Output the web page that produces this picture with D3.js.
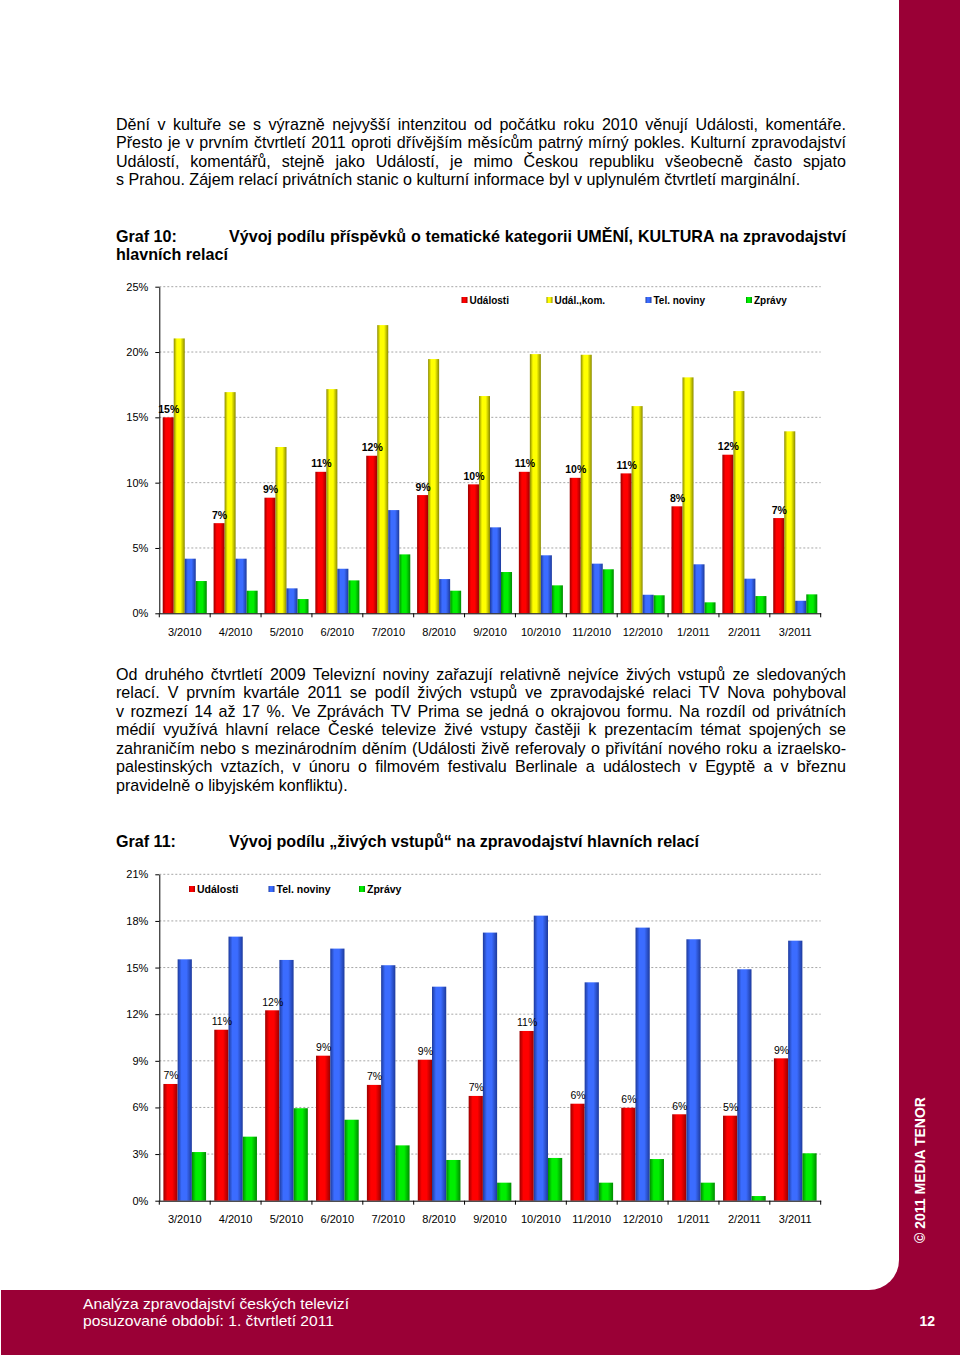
<!DOCTYPE html>
<html><head><meta charset="utf-8">
<script src="https://cdn.jsdelivr.net/npm/d3@7"></script>
<style>
html,body{margin:0;padding:0;background:#fff;}
body{width:960px;height:1357px;overflow:hidden;}
svg{display:block;}
</style></head><body>
<svg id="page" width="960" height="1357"></svg>
<script>
// ---------------- DATA ----------------
const categories = ["3/2010","4/2010","5/2010","6/2010","7/2010","8/2010","9/2010","10/2010","11/2010","12/2010","1/2011","2/2011","3/2011"];

// Graf 10
const g10Series = ["Události","Udál.,kom.","Tel. noviny","Zprávy"];
const g10Udalosti   = [15.0,6.9,8.85,10.83,12.06,9.05,9.87,10.83,10.37,10.71,8.19,12.14,7.29];
const g10UdalKom    = [21.04,16.93,12.73,17.16,22.06,19.46,16.63,19.84,19.79,15.86,18.06,17.01,13.93];
const g10TelNoviny  = [4.18,4.18,1.91,3.41,7.9,2.62,6.58,4.44,3.80,1.42,3.75,2.65,0.96];
const g10Zpravy     = [2.47,1.73,1.09,2.52,4.51,1.73,3.16,2.14,3.37,1.38,0.84,1.32,1.45];
const g10Labels     = ["15%","7%","9%","11%","12%","9%","10%","11%","10%","11%","8%","12%","7%"];
const g10Ticks      = [0,5,10,15,20,25];

// Graf 11
const g11Series = ["Události","Tel. noviny","Zprávy"];
const g11Udalosti  = [7.51,11.0,12.25,9.33,7.45,9.07,6.74,10.92,6.24,5.98,5.56,5.47,9.16];
const g11TelNoviny = [15.53,16.99,15.49,16.22,15.15,13.77,17.25,18.34,14.05,17.57,16.82,14.89,16.73];
const g11Zpravy    = [3.13,4.12,5.95,5.21,3.56,2.62,1.16,2.75,1.16,2.68,1.16,0.30,3.05];
const g11Labels    = ["7%","11%","12%","9%","7%","9%","7%","11%","6%","6%","6%","5%","9%"];
const g11Ticks     = [0,3,6,9,12,15,18,21];

// Texts
const para1 = [
 "Dění v kultuře se s výrazně nejvyšší intenzitou od počátku roku 2010 věnují Události, komentáře.",
 "Přesto je v prvním čtvrtletí 2011 oproti dřívějším měsícům patrný mírný pokles. Kulturní zpravodajství",
 "Událostí, komentářů, stejně jako Událostí, je mimo Českou republiku všeobecně často spjato",
 "s Prahou. Zájem relací privátních stanic o kulturní informace byl v uplynulém čtvrtletí marginální."
];
const title10Label = "Graf 10:";
const title10 = ["Vývoj podílu příspěvků o tematické kategorii UMĚNÍ, KULTURA na zpravodajství","hlavních relací"];
const para2 = [
 "Od druhého čtvrtletí 2009 Televizní noviny zařazují relativně nejvíce živých vstupů ze sledovaných",
 "relací. V prvním kvartále 2011 se podíl živých vstupů ve zpravodajské relaci TV Nova pohyboval",
 "v rozmezí 14 až 17 %. Ve Zprávách TV Prima se jedná o okrajovou formu. Na rozdíl od privátních",
 "médií využívá hlavní relace České televize živé vstupy častěji k prezentacím témat spojených se",
 "zahraničím nebo s mezinárodním děním (Události živě referovaly o přivítání nového roku a izraelsko-",
 "palestinských vztazích, v únoru o filmovém festivalu Berlinale a událostech v Egyptě a v březnu",
 "pravidelně o libyjském konfliktu)."
];
const title11Label = "Graf 11:";
const title11 = "Vývoj podílu „živých vstupů“ na zpravodajství hlavních relací";
const footer = ["Analýza zpravodajství českých televizí","posuzované období: 1. čtvrtletí 2011"];
const pageNo = "12";
const sideText = "© 2011 MEDIA TENOR";

// ---------------- PAGE ----------------
const BURG = "#9a0036";
const svg = d3.select("#page");
const defs = svg.append("defs");

svg.append("rect").attr("x",0).attr("y",0).attr("width",960).attr("height",1357).attr("fill","#fff");
svg.append("rect").attr("x",899).attr("y",0).attr("width",61).attr("height",1355).attr("fill",BURG);
svg.append("rect").attr("x",1).attr("y",1255).attr("width",959).attr("height",100).attr("fill",BURG);
svg.append("path").attr("fill","#fff")
  .attr("d","M0,0 H899 V1260 A30,30 0 0 1 869,1290 H0 Z");

function fontAvailable(name){
  const c=document.createElement('canvas').getContext('2d');
  c.font='40px monospace'; const a=c.measureText('abcdefghiMWQrstl').width;
  c.font='40px "'+name+'", monospace'; const b=c.measureText('abcdefghiMWQrstl').width;
  return a!==b;
}
const bodyFont = fontAvailable('Liberation Sans Narrow') ? '"Liberation Sans Narrow","Liberation Sans",Arial,sans-serif' : '"Liberation Sans",Arial,sans-serif';
const sansFont = '"Liberation Sans",Arial,sans-serif';

const measureG = svg.append("g").attr("opacity",0);
function measure(str, size, weight){
  const t = measureG.append("text").attr("font-family",bodyFont).attr("font-size",size).attr("font-weight",weight).text(str);
  const w = t.node().getComputedTextLength(); t.remove(); return w;
}
function styleScale(refStr, target, size, weight){ return target / measure(refStr,size,weight); }

function drawLine(str, x, baseline, o){
  const words = str.split(" ");
  const ws = words.map(w => measure(w,o.size,o.weight)*o.s);
  const spaceW = (measure("x x",o.size,o.weight)-measure("xx",o.size,o.weight))*o.s;
  let gap = spaceW;
  if (o.width && words.length>1) gap = (o.width - d3.sum(ws))/(words.length-1);
  let cx = x;
  words.forEach((w,i)=>{
    svg.append("text").attr("x",cx).attr("y",baseline)
      .attr("font-family",bodyFont).attr("font-size",o.size).attr("font-weight",o.weight)
      .attr("fill",o.fill||"#000")
      .attr("textLength",ws[i]).attr("lengthAdjust","spacingAndGlyphs").text(w);
    cx += ws[i] + gap;
  });
}

const BODY = 17;
const sBody = styleScale(para1[3], 684, BODY, "normal");
const sBold = styleScale(title11, 470, BODY, "bold");
const sFoot = styleScale(footer[0], 266, 15, "normal");
const bodyO = {size:BODY, weight:"normal", s:sBody};
const boldO = {size:BODY, weight:"bold", s:sBold};

const LX = 116, RW = 730, LH = 18.55;
para1.forEach((l,i)=> drawLine(l, LX, 129.5 + i*LH, Object.assign({}, bodyO, {width: i<para1.length-1 ? RW : null})));
drawLine(title10Label, LX, 241.5, boldO);
drawLine(title10[0], 229, 241.5, Object.assign({}, boldO, {width: 846-229}));
drawLine(title10[1], LX, 260, boldO);
para2.forEach((l,i)=> drawLine(l, LX, 679.5 + i*LH, Object.assign({}, bodyO, {width: i<para2.length-1 ? RW : null})));
drawLine(title11Label, LX, 846.5, boldO);
drawLine(title11, 229, 846.5, boldO);

const footO = {size:15, weight:"normal", s:sFoot, fill:"#fff"};
drawLine(footer[0], 83, 1309, footO);
drawLine(footer[1], 83, 1326, footO);
svg.append("text").attr("x",935).attr("y",1326).attr("text-anchor","end")
  .attr("font-family",sansFont).attr("font-size",14).attr("font-weight","bold").attr("fill","#fff").text(pageNo);
svg.append("text").attr("transform","translate(925,1170) rotate(-90)").attr("text-anchor","middle")
  .attr("font-family",sansFont).attr("font-size",14).attr("font-weight","bold").attr("fill","#fff").text(sideText);

// ---------------- CHARTS ----------------
const palette = {
  "red":   ["#9a0000","#ff0000"],
  "yellow":["#8a8a00","#ffff00"],
  "blue":  ["#1d3a9c","#3b6cff"],
  "green": ["#008a00","#00ee00"]
};
Object.entries(palette).forEach(([k,[dark,mid]])=>{
  const g = defs.append("linearGradient").attr("id","grad-"+k).attr("x1",0).attr("x2",1).attr("y1",0).attr("y2",0);
  g.append("stop").attr("offset","0%").attr("stop-color",dark);
  g.append("stop").attr("offset","28%").attr("stop-color",mid);
  g.append("stop").attr("offset","62%").attr("stop-color",mid);
  g.append("stop").attr("offset","100%").attr("stop-color",dark);
});

function drawChart(cfg){
  const g = svg.append("g");
  const x0 = d3.scaleBand().domain(categories).range([cfg.left, cfg.right]).paddingInner(cfg.pad).paddingOuter(cfg.pad/2);
  const x1 = d3.scaleBand().domain(cfg.series).range([0, x0.bandwidth()]);
  const y = d3.scaleLinear().domain([0, d3.max(cfg.ticks)]).range([cfg.bottom, cfg.top]);

  g.append("g").selectAll("line").data(cfg.ticks.filter(t=>t>0)).join("line")
    .attr("x1",cfg.left).attr("x2",cfg.right).attr("y1",d=>y(d)).attr("y2",d=>y(d))
    .attr("stroke","#a6a6a6").attr("stroke-width",1).attr("stroke-dasharray","2,2");

  const rows = [];
  cfg.values.forEach((arr, si)=> arr.forEach((v,ci)=> rows.push({s:cfg.series[si], c:categories[ci], v, col:cfg.colors[si]})));
  g.append("g").selectAll("rect").data(rows).join("rect")
    .attr("x",d=>x0(d.c)+x1(d.s)).attr("width",x1.bandwidth())
    .attr("y",d=>y(d.v)).attr("height",d=>y(0)-y(d.v))
    .attr("fill",d=>"url(#grad-"+d.col+")");

  g.append("g").selectAll("text").data(cfg.labels).join("text")
    .attr("x",(d,i)=>x0(categories[i])+x1(cfg.series[0])+x1.bandwidth()/2+0.5)
    .attr("y",(d,i)=>y(cfg.values[0][i])-4.5)
    .attr("text-anchor","middle").attr("font-family",sansFont)
    .attr("font-size",cfg.labelSize).attr("font-weight",cfg.labelWeight).attr("fill","#000").text(d=>d);

  const ya = g.append("g").attr("transform",`translate(${cfg.left},0)`)
    .call(d3.axisLeft(y).tickValues(cfg.ticks).tickFormat(d=>d+"%").tickSize(4).tickSizeOuter(0).tickPadding(7));
  ya.selectAll("text").attr("font-family",sansFont).attr("font-size",11).attr("fill","#000");
  ya.selectAll("line,path").attr("stroke","#000");

  const xa = g.append("g").attr("transform",`translate(0,${cfg.bottom})`)
    .call(d3.axisBottom(x0).tickSize(0).tickSizeOuter(0).tickPadding(15));
  xa.selectAll("text").attr("font-family",sansFont).attr("font-size",11).attr("fill","#000");
  xa.select(".domain").attr("stroke","#000");
  const bounds = d3.range(categories.length+1).map(i=>cfg.left + i*x0.step());
  g.append("g").selectAll("line").data(bounds).join("line")
    .attr("x1",d=>d).attr("x2",d=>d).attr("y1",cfg.bottom).attr("y2",cfg.bottom+4).attr("stroke","#000");

  const lg = g.append("g");
  cfg.series.forEach((s,i)=>{
    const lx = cfg.legendX[i];
    lg.append("rect").attr("x",lx).attr("y",cfg.legendY-3).attr("width",6).attr("height",6).attr("fill","url(#grad-"+cfg.colors[i]+")");
    lg.append("text").attr("x",lx+8).attr("y",cfg.legendY+3.6).attr("font-family",sansFont)
      .attr("font-size",cfg.legendSize).attr("font-weight","bold").attr("fill","#000").text(s);
  });
}

drawChart({
  left:159.3, right:820.7, top:286.7, bottom:613.3, pad:0.134,
  series:g10Series, values:[g10Udalosti,g10UdalKom,g10TelNoviny,g10Zpravy],
  colors:["red","yellow","blue","green"], labels:g10Labels, ticks:g10Ticks,
  labelSize:10.5, labelWeight:"bold",
  legendX:[461.5,546.5,645.5,746], legendY:300, legendSize:10
});

drawChart({
  left:159.3, right:820.7, top:874.3, bottom:1200.7, pad:0.161,
  series:g11Series, values:[g11Udalosti,g11TelNoviny,g11Zpravy],
  colors:["red","blue","green"], labels:g11Labels, ticks:g11Ticks,
  labelSize:10.5, labelWeight:"normal",
  legendX:[189,268.5,359], legendY:889, legendSize:10.5
});
measureG.remove();
</script>
</body></html>
